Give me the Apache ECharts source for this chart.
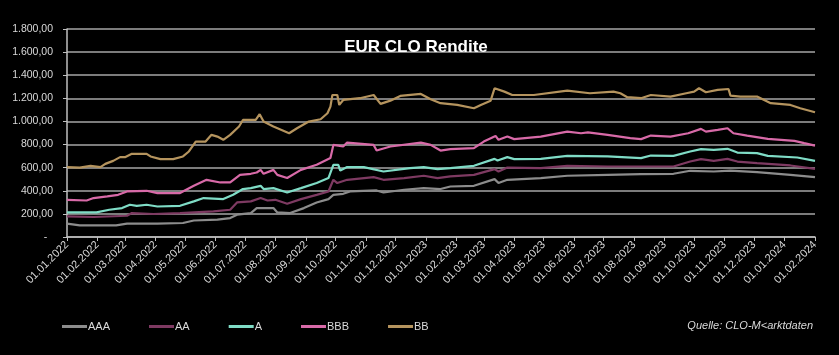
<!DOCTYPE html>
<html><head><meta charset="utf-8">
<script src="https://cdn.jsdelivr.net/npm/echarts@6/dist/echarts.min.js"></script>
<style>html,body{margin:0;padding:0;background:#000;}#c{width:839px;height:355px;}</style>
</head><body><div id="c"></div>
<script>
const seriesNames = ['AAA', 'AA', 'A', 'BBB', 'BB'];
const seriesColors = ['#8c8c8c', '#7e3a62', '#7fdcc6', '#d86aa8', '#b5945e'];
const yTicks = [0, 200, 400, 600, 800, 1000, 1200, 1400, 1600, 1800];

const AAA = [['2022-01-01',115],['2022-01-14',100],['2022-02-20',100],['2022-03-03',115],['2022-04-03',115],['2022-04-29',121],['2022-05-10',143],['2022-06-03',150],['2022-06-16',164],['2022-06-23',193],['2022-07-07',207],['2022-07-13',250],['2022-07-30',250],['2022-08-03',213],['2022-08-16',207],['2022-08-30',250],['2022-09-12',299],['2022-09-24',328],['2022-09-29',365],['2022-10-09',374],['2022-10-16',394],['2022-11-12',403],['2022-11-19',385],['2022-12-10',409],['2022-12-30',423],['2023-01-16',415],['2023-01-26',437],['2023-02-19',443],['2023-03-12',501],['2023-03-16',467],['2023-03-25',495],['2023-04-28',510],['2023-05-25',530],['2023-07-05',538],['2023-08-08',544],['2023-09-10',547],['2023-09-27',573],['2023-10-21',567],['2023-11-07',575],['2023-12-04',562],['2024-01-07',538],['2024-02-01',518]];

const AA = [['2022-01-01',178],['2022-01-28',173],['2022-03-03',184],['2022-03-08',207],['2022-03-30',199],['2022-04-26',207],['2022-05-30',221],['2022-06-16',236],['2022-06-23',299],['2022-07-07',308],['2022-07-17',337],['2022-07-24',316],['2022-08-01',322],['2022-08-13',288],['2022-08-27',328],['2022-09-12',365],['2022-09-24',394],['2022-09-29',495],['2022-10-03',467],['2022-10-13',495],['2022-11-09',518],['2022-11-19',495],['2022-12-10',510],['2022-12-30',530],['2023-01-13',510],['2023-01-26',524],['2023-02-19',538],['2023-03-12',587],['2023-03-16',567],['2023-03-25',601],['2023-04-28',596],['2023-05-25',616],['2023-07-05',610],['2023-09-10',610],['2023-09-27',653],['2023-10-08',674],['2023-10-21',659],['2023-11-04',676],['2023-11-14',653],['2023-12-04',639],['2024-01-07',619],['2024-02-01',590]];

const A = [['2022-01-01',213],['2022-01-31',213],['2022-02-13',236],['2022-02-26',250],['2022-03-06',279],['2022-03-13',270],['2022-03-23',279],['2022-04-03',264],['2022-04-26',270],['2022-05-10',308],['2022-05-20',337],['2022-06-09',328],['2022-06-19',365],['2022-06-29',415],['2022-07-07',423],['2022-07-17',443],['2022-07-20',415],['2022-07-30',423],['2022-08-13',385],['2022-08-27',423],['2022-09-12',467],['2022-09-24',510],['2022-09-29',625],['2022-10-04',625],['2022-10-06',575],['2022-10-13',605],['2022-10-30',605],['2022-11-19',567],['2022-12-16',596],['2022-12-30',605],['2023-01-13',587],['2023-01-26',596],['2023-02-19',616],['2023-03-12',676],['2023-03-15',662],['2023-03-25',691],['2023-04-01',674],['2023-04-28',676],['2023-05-25',702],['2023-07-05',697],['2023-08-08',683],['2023-08-18',705],['2023-09-10',702],['2023-09-27',740],['2023-10-08',760],['2023-10-21',754],['2023-11-04',763],['2023-11-14',731],['2023-12-04',726],['2023-12-15',702],['2024-01-14',688],['2024-02-01',659]];

const BBB = [['2022-01-01',322],['2022-01-21',316],['2022-01-28',337],['2022-02-11',351],['2022-02-22',365],['2022-03-03',394],['2022-03-23',400],['2022-04-03',380],['2022-04-26',380],['2022-05-10',443],['2022-05-23',495],['2022-06-06',472],['2022-06-16',472],['2022-06-26',538],['2022-07-07',547],['2022-07-13',558],['2022-07-17',581],['2022-07-20',547],['2022-07-30',581],['2022-08-03',538],['2022-08-13',510],['2022-08-27',581],['2022-09-12',625],['2022-09-26',683],['2022-09-29',797],['2022-10-09',783],['2022-10-13',817],['2022-11-09',797],['2022-11-12',748],['2022-11-26',783],['2022-12-27',817],['2023-01-06',797],['2023-01-16',748],['2023-01-26',760],['2023-02-19',769],['2023-03-01',826],['2023-03-13',875],['2023-03-16',841],['2023-03-25',869],['2023-04-01',847],['2023-04-28',869],['2023-05-25',912],['2023-06-08',898],['2023-06-15',905],['2023-07-05',884],['2023-07-28',855],['2023-08-08',847],['2023-08-18',878],['2023-09-07',869],['2023-09-25',898],['2023-10-08',936],['2023-10-13',912],['2023-10-25',927],['2023-11-04',941],['2023-11-10',898],['2023-11-24',878],['2023-12-15',849],['2024-01-11',832],['2024-01-21',812],['2024-02-01',791]];

const BB = [['2022-01-01',605],['2022-01-14',600],['2022-01-25',616],['2022-02-04',605],['2022-02-09',633],['2022-02-17',659],['2022-02-24',691],['2022-03-01',691],['2022-03-08',720],['2022-03-23',720],['2022-03-27',697],['2022-04-06',674],['2022-04-19',674],['2022-04-29',697],['2022-05-05',740],['2022-05-12',826],['2022-05-22',826],['2022-05-28',884],['2022-06-03',869],['2022-06-09',841],['2022-06-16',884],['2022-06-25',956],['2022-06-29',1013],['2022-07-12',1013],['2022-07-16',1063],['2022-07-20',999],['2022-07-30',956],['2022-08-15',898],['2022-08-23',941],['2022-09-04',999],['2022-09-16',1019],['2022-09-23',1071],['2022-09-26',1128],['2022-09-28',1229],['2022-10-03',1229],['2022-10-05',1143],['2022-10-09',1186],['2022-10-26',1201],['2022-11-09',1229],['2022-11-16',1152],['2022-11-26',1180],['2022-12-06',1221],['2022-12-27',1238],['2023-01-06',1192],['2023-01-16',1158],['2023-02-02',1143],['2023-02-19',1114],['2023-02-26',1143],['2023-03-08',1180],['2023-03-12',1287],['2023-03-22',1258],['2023-03-30',1229],['2023-04-21',1229],['2023-05-25',1267],['2023-06-17',1244],['2023-07-11',1258],['2023-07-18',1244],['2023-07-25',1210],['2023-08-08',1201],['2023-08-18',1229],['2023-09-07',1215],['2023-09-23',1244],['2023-10-01',1258],['2023-10-06',1287],['2023-10-13',1253],['2023-10-25',1273],['2023-11-05',1281],['2023-11-07',1223],['2023-11-17',1215],['2023-12-04',1215],['2023-12-18',1158],['2024-01-07',1143],['2024-01-17',1114],['2024-02-01',1080]];

const seriesData = [AAA, AA, A, BBB, BB];

function pad(n){ return (n < 10 ? '0' : '') + n; }
function fmtDate(v){ const d = new Date(v); return pad(d.getDate()) + '.' + pad(d.getMonth() + 1) + '.' + d.getFullYear(); }
function fmtNum(v){
  if (v === 0) return '-  ';
  const s = Math.round(v).toString().replace(/\B(?=(\d{3})+(?!\d))/g, '.');
  return s + ',00';
}

const chart = echarts.init(document.getElementById('c'), null, {renderer: 'canvas'});
const DAY = 86400000;
chart.setOption({
  backgroundColor: '#000',
  animation: false,
  textStyle: {fontFamily: 'Liberation Sans'},
  title: {
    text: 'EUR CLO Rendite', left: 411, top: 34, textAlign: 'center',
    textStyle: {color: '#ffffff', fontSize: 17, fontWeight: 'bold', fontFamily: 'Liberation Sans'}
  },
  legend: {
    data: seriesNames, left: 57, top: 316, itemGap: 39, itemWidth: 25, itemHeight: 3,
    icon: 'rect', textStyle: {color: '#d9d9d9', fontSize: 11, padding: [0,0,0,-4]}
  },
  grid: {left: 67, right: 24, top: 29, bottom: 118, containLabel: false, outerBoundsMode: 'none'},
  xAxis: {
    type: 'time', min: '2022-01-01', max: '2024-02-01', splitNumber: 25,
    minInterval: 28 * DAY, maxInterval: 31 * DAY,
    axisLine: {show: true, lineStyle: {color: '#bfbfbf', width: 1.5}},
    axisTick: {show: true, length: 4, lineStyle: {color: '#bfbfbf'}},
    splitLine: {show: false},
    axisLabel: {
      rotate: 45, color: '#d9d9d9', fontSize: 11, margin: 6, hideOverlap: false,
      showMinLabel: true, showMaxLabel: true, formatter: fmtDate
    }
  },
  yAxis: {
    type: 'value', min: yTicks[0], max: yTicks[yTicks.length - 1], interval: 200,
    axisLine: {show: true, lineStyle: {color: '#bfbfbf', width: 1.5}},
    axisTick: {show: true, length: 4, lineStyle: {color: '#bfbfbf'}},
    splitLine: {show: true, lineStyle: {color: '#a6a6a6', width: 1.5}},
    axisLabel: {color: '#d9d9d9', fontSize: 10.5, margin: 14, formatter: fmtNum}
  },
  graphic: [{
    type: 'text', right: 26, top: 320,
    style: {text: 'Quelle: CLO-M<arktdaten', fill: '#d9d9d9', font: 'italic 11px "Liberation Sans"'}
  }],
  series: seriesNames.map((n, i) => ({
    name: n, type: 'line', data: seriesData[i], showSymbol: false, symbol: 'none',
    lineStyle: {color: seriesColors[i], width: 2.2}, itemStyle: {color: seriesColors[i]}
  }))
});
</script></body></html>
